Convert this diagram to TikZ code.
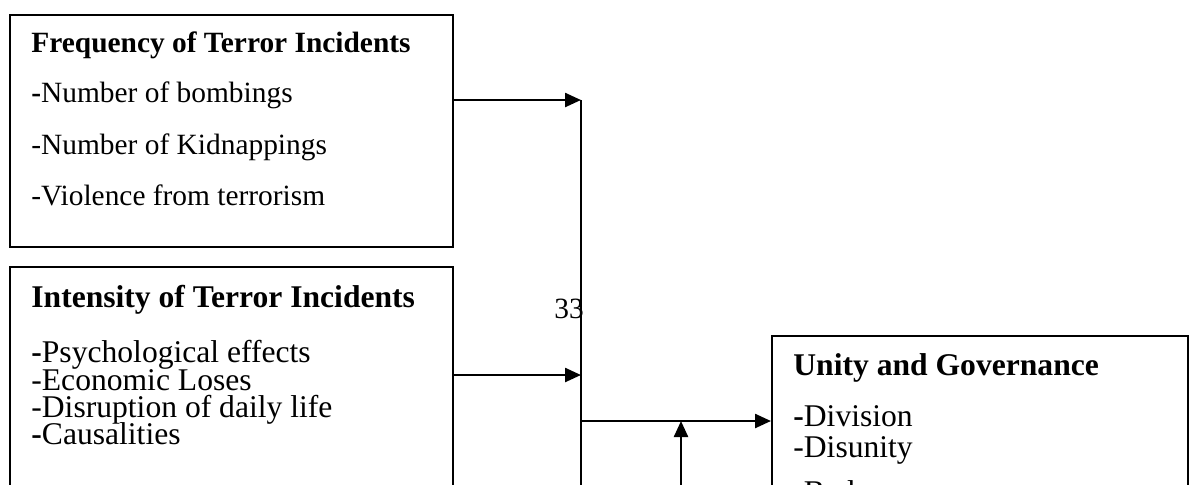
\documentclass[tikz,border=0pt]{standalone}
\usepackage{fontspec}
\setmainfont{Liberation Serif}
\usetikzlibrary{arrows.meta}

\begin{document}
\begin{tikzpicture}[x=0.5pt,y=-0.5pt,
    small/.style={anchor=base west,inner sep=0pt,font=\fontsize{14.7}{17}\selectfont},
    big/.style={anchor=base west,inner sep=0pt,font=\fontsize{15.8}{19}\selectfont},
    link/.style={line width=1.2pt,-{Triangle[length=8pt,width=7pt]}}]

  \useasboundingbox (0,0) rectangle (1189,484);
  \clip (0,0) rectangle (1189,484);

  \begin{scope}[every node/.style={draw,line width=1pt,anchor=north west,inner sep=0pt}]
    \node (freq)  [minimum width=221.5pt,minimum height=116pt] at (9,14)   {};
    \node (inten) [minimum width=221.5pt,minimum height=137pt] at (9,266)  {};
    \node (unity) [minimum width=208pt,minimum height=103pt]   at (771,335) {};
  \end{scope}

  % frequency box
  \node (f0) [small] at (31,52)  {\textbf{Frequency of Terror Incidents}};
  \node (f1) [small] at (31,102) {\textbf{-}Number of bombings};
  \node (f2) [small] at (31,154) {-Number of Kidnappings};
  \node (f3) [small] at (31,205) {-Violence from terrorism};

  % intensity box
  \node (i0) [big] at (31,307) {\textbf{Intensity of Terror Incidents}};
  \node (i1) [big] at (31,362) {\textbf{-}Psychological effects};
  \node (i2) [big] at (31,390) {-Economic Loses};
  \node (i3) [big] at (31,417) {-Disruption of daily life};
  \node (i4) [big] at (31,444) {\textbf{-}Causalities};

  % unity box
  \node (u0) [big] at (793,375) {\textbf{Unity and Governance}};
  \node (u1) [big] at (793,426) {\textbf{-}Division};
  \node (u2) [big] at (793,457) {-Disunity};
  \node (u3) [big] at (793,502) {-Bad governance};

  \node (pg) [small] at (554,318) {33};

  \coordinate (t1)  at (581,100);
  \coordinate (t2)  at (581,375);
  \coordinate (j)   at (581,421);
  \coordinate (bot) at (581,500);
  \coordinate (up)  at (681,500);

  \draw[link] (freq.east |- t1) -- (t1);
  \draw[link] (inten.east |- t2) -- (t2);
  \draw[line width=1.2pt] (t1) -- (bot);
  \draw[link] (j) -- (unity.west |- j);
  \draw[link] (up) -- (up |- j);

\end{tikzpicture}
\end{document}
